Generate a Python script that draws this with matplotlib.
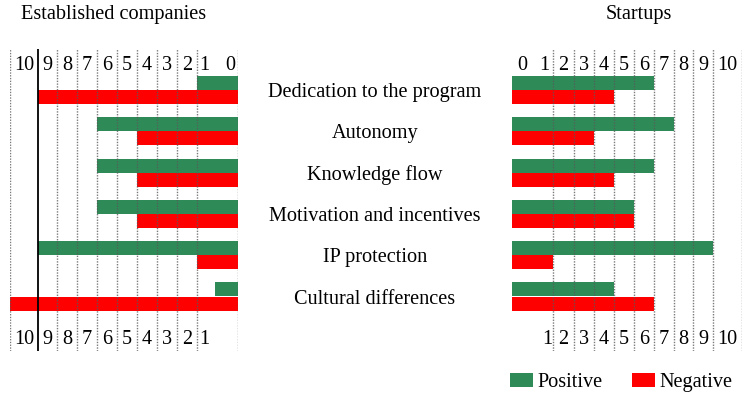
import numpy as np
import matplotlib
matplotlib.use("Agg")
import matplotlib.pyplot as plt
import matplotlib.transforms as mtransforms

plt.rcParams['font.family'] = ['Liberation Serif', 'DejaVu Serif']

# ---------------- data ----------------
categories = ["Dedication to the program", "Autonomy", "Knowledge flow",
              "Motivation and incentives", "IP protection", "Cultural differences"]
established_positive = [1, 6, 6, 6, 9, 0.55]
established_negative = [9, 4, 4, 4, 1, 10]
startups_positive = [6, 7, 6, 5, 9, 4]
startups_negative = [4, 3, 4, 5, 1, 6]
tick_values = list(range(0, 11))
left_title = "Established companies"
right_title = "Startups"
legend_labels = ["Positive", "Negative"]

# ---------------- layout / style ----------------
W, H = 750, 396
GREEN = "#2E8B57"
RED = "#FF0000"
FS = 14.6

# the hand-drawn grid is non uniform: pixel distance of each value from zero
left_dist = [0, 41, 61, 81, 101, 121, 141, 161, 181, 200, 228]
right_dist = [0, 41, 62, 82, 102, 122, 142, 162, 181, 201, 230]


def make_scale(dist):
    v = np.array(tick_values, dtype=float)
    d = np.array(dist, dtype=float)

    def fwd(x):
        return np.interp(x, v, d)

    def inv(x):
        return np.interp(x, d, v)
    return fwd, inv


fig = plt.figure(figsize=(W / 100, H / 100), dpi=100)
top_px, bot_px = 49, 351
axL = fig.add_axes([10 / W, 1 - bot_px / H, 228 / W, (bot_px - top_px) / H])
axR = fig.add_axes([512 / W, 1 - bot_px / H, 230 / W, (bot_px - top_px) / H])

row_c0, pitch = 90, 41.3
y_top = (top_px - row_c0) / pitch
y_bot = (bot_px - row_c0) / pitch
bh = 14 / pitch

y = np.arange(len(categories))

for ax, dist, pos, neg in [(axL, left_dist, established_positive, established_negative),
                           (axR, right_dist, startups_positive, startups_negative)]:
    ax.set_xscale('function', functions=make_scale(dist))
    ax.barh(y - bh / 2, pos, height=bh, left=0, color=GREEN, zorder=2,
            label=legend_labels[0])
    ax.barh(y + bh / 2, neg, height=bh, left=0, color=RED, zorder=2,
            label=legend_labels[1])
    ax.set_ylim(y_bot, y_top)
    for s in ax.spines.values():
        s.set_visible(False)
    ax.set_xticks([])
    ax.set_yticks([])
    ax.patch.set_alpha(0)

axL.set_xlim(10, 0)
axR.set_xlim(0, 10)

grid_kw = dict(color="0.35", lw=1.0, linestyle=(0, (1, 1)), zorder=3, alpha=0.8)
for v in tick_values:
    if v == 9:
        axL.axvline(v, color="black", lw=1.3, zorder=3)
    else:
        axL.axvline(v, **grid_kw)
    if v >= 1:
        axR.axvline(v, **grid_kw)

# number labels
top_frac = (bot_px - 65) / (bot_px - top_px)
bot_frac = (bot_px - 340) / (bot_px - top_px)
trL = mtransforms.blended_transform_factory(axL.transData, axL.transAxes)
trR = mtransforms.blended_transform_factory(axR.transData, axR.transAxes)

for k in tick_values:
    if k >= 2:
        xl = k - 0.5
        axL.text(xl, top_frac, str(k), transform=trL, ha='center', va='center', fontsize=FS)
        axL.text(xl, bot_frac, str(k), transform=trL, ha='center', va='center', fontsize=FS)
        axR.text(xl, top_frac, str(k), transform=trR, ha='center', va='center', fontsize=FS)
        axR.text(xl, bot_frac, str(k), transform=trR, ha='center', va='center', fontsize=FS)
axL.text(0.83, top_frac, "1", transform=trL, ha='center', va='center', fontsize=FS)
axL.text(0.2, top_frac, "0", transform=trL, ha='center', va='center', fontsize=FS)
axL.text(0.83, bot_frac, "1", transform=trL, ha='center', va='center', fontsize=FS)
axR.text(0.26, top_frac, "0", transform=trR, ha='center', va='center', fontsize=FS)
axR.text(0.78, top_frac, "1", transform=trR, ha='center', va='center', fontsize=FS)
axR.text(0.85, bot_frac, "1", transform=trR, ha='center', va='center', fontsize=FS)

# category labels in the middle
trC = mtransforms.blended_transform_factory(fig.transFigure, axL.transData)
for i, c in enumerate(categories):
    fig.text(375 / W, i, c, transform=trC, ha='center', va='center_baseline', fontsize=FS)

# titles
fig.text(21 / W, 1 - 14 / H, left_title, ha='left', va='center', fontsize=FS)
fig.text(638.5 / W, 1 - 14 / H, right_title, ha='center', va='center', fontsize=FS)

# legend
handles, labels = axR.get_legend_handles_labels()
fig.legend(handles, labels, loc='upper left', bbox_to_anchor=(510 / W, 1 - 373 / H),
           ncol=2, frameon=False, fontsize=FS, handlelength=1.15, handleheight=0.65,
           handletextpad=0.2, columnspacing=1.45, borderpad=0, borderaxespad=0)

fig.savefig("out.png", dpi=100)
